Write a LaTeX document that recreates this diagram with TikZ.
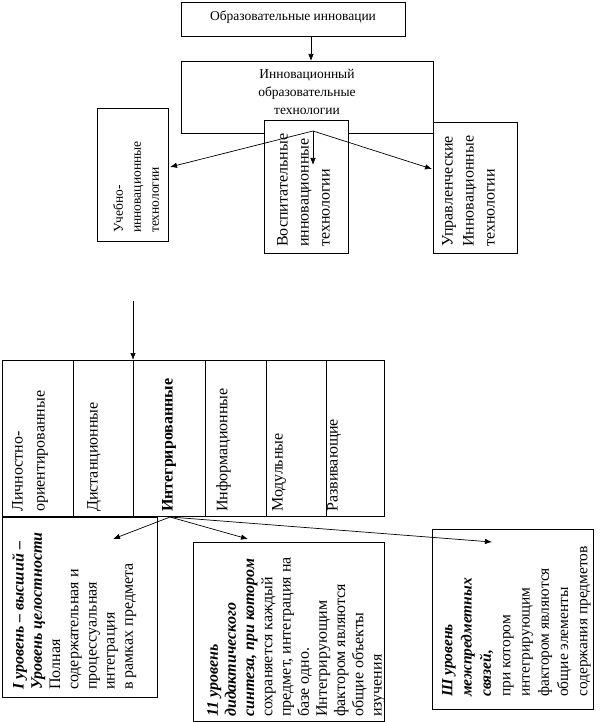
\documentclass[tikz,border=0pt]{standalone}
\usepackage{fontspec}
\setmainfont{Liberation Serif}
\usetikzlibrary{arrows.meta}
\begin{document}
\begin{tikzpicture}[x=1pt,y=-1pt,
  box/.style={draw,line width=0.8pt,fill=white,inner sep=0pt,anchor=north west},
  arr/.style={-{Latex[length=7pt,width=5.5pt]},line width=0.7pt},
  ln/.style={line width=0.8pt},
  vt/.style={rotate=90,anchor=north west,inner sep=0pt,align=left},
  sm/.style={font=\fontsize{13.5}{18}\selectfont},
  md/.style={font=\fontsize{16}{21}\selectfont},
  col/.style={font=\fontsize{16}{22}\selectfont},
  bt/.style={font=\fontsize{16}{18.2}\selectfont},
]
\fill[white] (0,0) rectangle (602,722);
\useasboundingbox (0,0) rectangle (602,722);

% top part
\node[box,minimum width=224pt,minimum height=34pt] (top) at (181,2) {};
\node[sm,anchor=base] (toptxt) at (293,21) {Образовательные инновации};

\node[box,minimum width=252pt,minimum height=72pt] (inn) at (181,61) {};
\node[sm,align=center,anchor=north,inner sep=0pt] (inntxt) at (307,69) {Инновационный\\образовательные\\технологии};

\node[box,minimum width=71pt,minimum height=133pt] (uch) at (97,108) {};
\node[vt,sm] (uchtxt) at (113,233) {Учебно-\\инновационные\\технологии};

\node[box,minimum width=84pt,minimum height=133pt] (vos) at (264,120) {};
\node[vt,md] (vostxt) at (277,247) {Воспитательные\\инновационные\\технологии};

\node[box,minimum width=84pt,minimum height=131pt] (upr) at (433,122) {};
\node[vt,md] (uprtxt) at (442,247) {Управленческие\\Инновационные\\технологии};

\coordinate (ax) at (311,0);
\draw[arr] (top.south -| ax) -- (inn.north -| ax);

\coordinate (s1) at (313,131);
\coordinate (t1) at (170,167);
\coordinate (t2) at (313,165);
\coordinate (t3) at (432,169);
\draw[arr] (s1) -- (t1);
\draw[arr] (s1) -- (t2);
\draw[arr] (s1) -- (t3);

% table
\node[box,minimum width=382pt,minimum height=156pt] (tab) at (2,360) {};
\foreach \cx in {73,133,205,266,326} \draw[ln] (\cx,360) -- (\cx,516);
\node[vt,col] (c1) at (12,512) {Личностно-\\ориентированные};
\node[vt,col] (c2) at (87,512) {Дистанционные};
\node[vt,col,font=\fontsize{16}{22}\selectfont\bfseries] (c3) at (162,512) {Интегрированные};
\node[vt,col] (c4) at (216,512) {Информационные};
\node[vt,col] (c5) at (272,512) {Модульные};
\node[vt,col] (c6) at (327,512) {Развивающие};

\coordinate (cs) at (133,301);
\draw[arr] (cs) -- (tab.north -| cs);

% bottom boxes
\node[box,minimum width=155pt,minimum height=180pt] (b1) at (2,517) {};
\node[box,minimum width=191pt,minimum height=179pt] (b2) at (193,542) {};
\node[box,minimum width=161pt,minimum height=180pt] (b3) at (432,529) {};

\node[vt,bt] (b1txt) at (12,690) {{\bfseries\itshape I уровень – высший –}\\{\bfseries\itshape Уровень целостности}\\Полная\\содержательная и\\процессуальная\\интеграция\\в рамках предмета};
\node[vt,bt] (b2txt) at (207,717) {{\bfseries\itshape 11 уровень}\\{\bfseries\itshape дидактического}\\{\bfseries\itshape синтеза, при котором}\\сохраняется каждый\\предмет, интеграция на\\базе одно.\\Интегрирующим\\фактором являются\\общие объекты\\изучения};
\node[vt,font=\fontsize{15.5}{19.3}\selectfont] (b3txt) at (442,697) {{\bfseries\itshape Ш уровень}\\{\bfseries\itshape межпредметных}\\{\bfseries\itshape связей,}\\при котором\\интегрирующим\\фактором являются\\общие элементы\\содержания предметов};

\coordinate (s2) at (170,517);
\coordinate (u1) at (113,539);
\coordinate (u2) at (248,539);
\coordinate (u3) at (492,542);
\draw[arr] (s2) -- (u1);
\draw[arr] (s2) -- (u2);
\draw[arr] (s2) -- (u3);
\end{tikzpicture}
\end{document}
